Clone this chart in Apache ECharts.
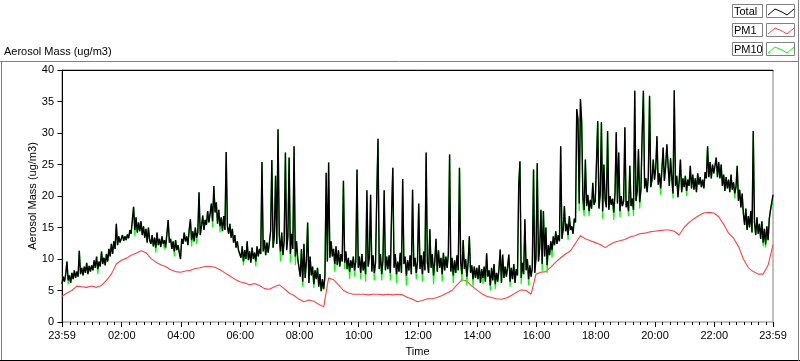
<!DOCTYPE html>
<html>
<head>
<meta charset="utf-8">
<script src="https://cdn.jsdelivr.net/npm/echarts@6/dist/echarts.min.js"></script>
<style>
html,body{margin:0;padding:0;background:#ffffff;}
#chart{width:800px;height:361px;}
</style>
</head>
<body>
<div id="chart"></div>
<script>
// ---------- data ----------
const seriesNames = ['Total', 'PM1', 'PM10'];
const seriesColors = ['#000000', '#ff4040', '#00ff00'];
const chartTitle = 'Aerosol Mass (ug/m3)';
const xAxisName = 'Time';
const yAxisName = 'Aerosol Mass (ug/m3)';

// major x ticks (minutes after midnight) and their labels
const xMajorTicks = [-1, 120, 240, 360, 480, 600, 720, 840, 960, 1080, 1200, 1320, 1439];
const xMajorLabels = ['23:59', '02:00', '04:00', '06:00', '08:00', '10:00', '12:00', '14:00', '16:00', '18:00', '20:00', '22:00', '23:59'];
const yTickValues = [0, 5, 10, 15, 20, 25, 30, 35, 40];

// Total and PM10 sampled every 2.5 minutes starting 23:59 (one line per hour)
const totalStartMin = -1, totalStepMin = 2.5;
const total = [
  6.0,7.2,6.4,7.6,9.6,6.6,7.4,6.2,7.8,6.8,8.2,7.0,8.0,7.2,11.3,7.6,8.6,7.4,8.8,7.8,9.4,7.6,8.9,8.0,
  9.0,8.2,9.8,8.6,10.4,8.4,9.6,8.8,11.2,9.2,10.2,9.0,10.8,9.6,11.6,10.4,12.4,10.8,12.8,11.6,15.6,12.2,13.6,12.6,
  13.2,13.8,12.9,13.6,13.0,13.9,13.3,14.6,14.0,16.2,18.3,14.6,16.6,14.2,15.8,14.4,16.0,13.8,15.2,13.4,14.8,12.6,15.0,13.0,
  12.4,13.8,12.0,13.4,11.8,14.2,12.2,13.2,11.9,13.6,12.4,13.0,11.8,14.0,16.2,12.6,13.2,11.6,12.8,11.2,13.0,11.4,12.2,11.0,
  10.0,13.2,12.4,14.2,12.8,13.6,12.2,14.6,16.3,13.0,14.4,12.8,15.0,13.4,14.2,20.6,13.8,15.2,16.9,14.6,16.2,15.4,17.6,15.8,
  17.2,18.8,16.0,21.6,17.4,19.0,15.6,17.8,15.2,16.6,14.4,16.8,14.6,27.0,15.2,14.0,15.6,13.4,14.8,12.6,13.8,11.8,12.8,11.4,
  11.6,10.2,12.0,9.6,11.4,10.0,12.8,9.8,11.2,9.4,11.8,10.0,11.0,9.6,12.0,10.4,11.6,10.8,25.4,11.2,13.0,10.6,12.6,11.0,
  12.6,14.4,25.7,11.8,13.6,23.2,12.4,30.6,13.8,11.2,14.2,10.6,13.0,26.9,11.4,13.6,26.1,10.8,14.0,11.6,27.9,10.4,12.8,10.0,
  9.8,7.2,11.6,6.4,12.4,7.0,9.6,15.8,6.2,10.4,7.4,8.8,6.0,8.2,6.8,8.6,5.6,7.6,4.9,6.8,5.2,7.2,23.7,9.6,
  25.3,10.2,12.8,10.4,11.6,9.2,12.0,9.0,11.4,8.8,10.8,9.6,22.4,9.4,11.2,8.4,10.2,8.0,9.8,8.6,10.4,8.2,9.6,24.2,
  8.6,10.4,7.8,10.8,8.2,9.6,7.6,20.9,8.8,10.2,20.2,8.0,10.6,7.8,9.4,20.0,29.1,8.4,10.8,7.6,9.8,20.9,8.2,10.4,
  8.4,10.6,7.8,17.2,24.5,8.6,10.8,7.6,9.6,8.0,11.0,7.8,22.7,9.2,10.4,7.4,9.8,8.2,10.6,7.6,21.0,8.8,10.2,7.8,
  9.6,18.8,8.4,10.6,7.6,11.2,8.2,26.9,9.4,7.8,14.7,8.6,10.8,7.4,9.6,13.2,8.0,11.4,8.6,10.2,7.6,11.0,8.2,10.4,
  8.6,10.8,26.6,8.0,10.2,7.4,9.8,7.8,10.6,8.2,24.5,9.4,7.6,13.0,8.4,10.0,7.2,9.4,13.6,7.8,9.0,6.8,8.8,7.0,
  8.6,6.8,9.0,6.2,8.4,7.0,8.8,6.4,10.9,7.2,8.2,5.8,8.6,6.6,9.2,6.0,7.8,6.4,8.4,11.5,6.2,10.7,7.0,8.8,
  7.2,8.8,10.7,6.4,8.6,6.8,9.2,6.2,8.4,7.4,21.7,25.5,7.0,9.4,7.6,16.3,8.2,10.0,6.8,9.0,7.2,8.6,24.2,7.8,
  10.2,25.2,9.6,11.8,17.8,9.2,17.6,10.4,15.0,9.0,12.2,10.6,12.8,11.4,13.6,12.2,14.4,12.4,13.8,12.8,27.9,13.2,14.6,18.4,
  14.4,15.6,13.8,16.8,14.6,15.2,14.0,16.4,15.8,33.8,32.2,18.8,35.4,31.8,19.6,17.8,25.8,18.4,20.2,17.6,19.4,18.0,22.1,18.6,
  19.2,25.3,31.9,18.0,20.2,31.7,17.6,25.0,19.4,18.2,30.3,17.8,20.0,18.6,19.6,17.4,20.4,30.1,18.8,26.9,17.6,20.0,18.4,19.2,
  30.9,18.2,19.2,17.6,24.8,18.4,19.6,17.8,36.7,19.2,20.8,27.4,19.0,21.0,29.8,36.7,21.2,22.8,20.6,23.0,35.9,21.4,22.6,25.8,
  22.6,24.4,29.5,21.8,23.6,21.2,24.2,27.7,22.4,24.6,28.2,28.0,21.6,26.0,22.8,20.4,36.8,21.6,23.2,19.8,22.4,25.8,20.6,22.8,
  21.4,23.2,20.8,22.6,21.6,24.8,21.2,23.4,21.0,22.8,20.6,23.6,21.8,23.0,21.4,22.6,21.2,23.8,22.8,27.9,23.0,25.4,22.8,25.0,
  23.6,24.8,26.1,23.0,25.4,22.8,25.0,21.6,23.4,20.8,23.0,21.2,22.6,20.6,23.4,21.0,22.2,20.4,21.4,24.8,19.2,21.0,18.2,20.4,
  17.2,15.4,18.0,14.6,16.8,15.0,17.6,14.2,30.3,15.8,13.8,16.6,14.0,15.6,13.2,16.0,12.6,14.8,12.3,15.2,13.0,16.4,17.8,19.0,
  20.2
];
const pm10 = [
  6.0,7.2,6.4,7.6,9.6,6.0,7.4,6.2,7.8,6.8,8.2,7.0,8.0,7.2,11.3,7.6,8.6,7.4,8.8,7.8,9.4,7.6,8.9,8.0,
  9.0,8.2,9.8,8.6,10.4,7.6,9.6,8.8,11.2,9.2,10.2,9.0,10.8,9.6,11.6,10.4,12.4,10.8,12.8,11.6,15.6,12.2,13.6,12.6,
  13.2,13.8,12.9,13.6,13.0,13.9,13.3,14.6,14.0,16.2,18.3,13.6,16.6,14.2,15.8,14.4,16.0,13.8,15.2,13.4,14.8,12.6,15.0,13.0,
  12.4,13.8,12.0,13.4,11.0,14.2,12.2,13.2,11.9,13.6,12.4,11.6,11.8,14.0,16.2,12.6,13.2,11.6,12.8,10.4,13.0,11.4,12.2,11.0,
  10.0,13.2,12.4,14.2,12.8,13.6,12.2,14.6,16.3,12.0,14.4,12.8,15.0,12.4,14.2,20.6,13.8,15.2,16.9,14.6,16.2,15.4,17.6,15.8,
  17.2,18.8,15.0,21.6,17.4,19.0,15.6,17.8,14.2,16.6,14.4,16.8,14.6,27.0,15.2,14.0,15.6,13.4,14.8,12.6,13.8,11.8,12.8,11.4,
  11.6,10.2,12.0,9.0,11.4,10.0,12.8,9.8,11.2,9.4,11.8,10.0,11.0,8.8,12.0,10.4,11.6,10.8,25.4,11.2,13.0,10.6,12.6,11.0,
  12.6,14.4,25.7,11.8,13.6,23.2,12.4,30.6,13.8,9.6,14.2,10.6,13.0,26.9,11.4,13.6,26.1,9.4,14.0,11.6,27.9,9.0,12.8,10.0,
  9.8,7.2,11.6,5.6,12.4,7.0,9.6,15.8,6.2,10.4,7.4,8.8,5.4,8.2,6.8,8.6,5.6,7.6,4.9,6.0,5.2,7.2,23.7,9.6,
  25.3,10.2,12.8,10.4,11.6,8.0,12.0,9.0,11.4,8.8,10.8,9.6,22.4,8.4,11.2,8.4,10.2,6.8,9.8,8.6,10.4,7.2,9.6,24.2,
  8.6,10.4,6.8,10.8,8.2,9.6,6.4,20.9,8.8,10.2,20.2,8.0,10.6,6.6,9.4,20.0,29.1,8.4,10.8,6.6,9.8,20.9,8.2,10.4,
  8.4,10.6,6.6,17.2,24.5,8.6,10.8,6.2,9.6,8.0,11.0,7.8,22.7,9.2,10.4,5.8,9.8,8.2,10.6,7.6,21.0,8.8,10.2,6.8,
  9.6,18.8,8.4,10.6,6.4,11.2,8.2,26.9,9.4,7.8,14.7,8.6,10.8,6.0,9.6,13.2,8.0,11.4,8.6,10.2,6.4,11.0,8.2,10.4,
  8.6,10.8,26.6,8.0,10.2,6.2,9.8,7.8,10.6,8.2,24.5,9.4,6.4,13.0,8.4,10.0,5.8,9.4,13.6,7.8,9.0,5.6,8.8,7.0,
  8.6,6.8,9.0,6.2,8.4,6.0,8.8,6.4,10.9,7.2,8.2,5.0,8.6,6.6,9.2,5.2,7.8,6.4,8.4,11.5,6.2,10.7,7.0,8.8,
  7.2,8.8,10.7,5.6,8.6,6.8,9.2,6.2,8.4,7.4,21.7,25.5,6.0,9.4,7.6,16.3,8.2,10.0,5.8,9.0,7.2,8.6,24.2,7.8,
  10.2,25.2,9.6,11.8,17.8,8.0,17.6,10.4,15.0,7.8,12.2,10.6,12.8,10.2,13.6,12.2,14.4,12.4,13.8,12.8,27.9,13.2,14.6,18.4,
  14.4,15.6,13.0,16.8,14.6,15.2,14.0,16.4,15.8,33.8,32.2,17.6,35.4,31.8,18.4,16.8,25.8,18.4,20.2,16.8,19.4,18.0,22.1,18.6,
  19.2,25.3,31.9,18.0,20.2,31.7,16.4,25.0,19.4,18.2,30.3,17.8,20.0,18.6,19.6,16.2,20.4,30.1,18.8,26.9,16.6,20.0,18.4,19.2,
  30.9,18.2,19.2,16.8,24.8,18.4,19.6,16.8,36.7,19.2,20.8,27.4,18.0,21.0,29.8,36.7,21.2,22.8,20.6,23.0,35.9,21.4,22.6,25.8,
  22.6,24.4,29.5,21.8,23.6,20.2,24.2,27.7,22.4,24.6,28.2,28.0,21.6,26.0,22.8,19.6,36.8,21.6,23.2,19.8,22.4,25.8,20.6,22.8,
  21.4,23.2,20.0,22.6,21.6,24.8,21.2,23.4,21.0,22.8,20.6,23.6,21.8,23.0,21.4,22.6,21.2,23.8,22.8,27.9,23.0,25.4,22.8,25.0,
  23.6,24.8,26.1,23.0,25.4,22.8,25.0,21.6,23.4,20.8,23.0,21.2,22.6,20.6,23.4,21.0,22.2,19.6,21.4,24.8,19.2,21.0,18.2,20.4,
  17.2,15.4,18.0,14.6,16.8,15.0,17.6,14.2,30.3,15.8,13.8,16.6,14.0,15.6,13.2,16.0,12.0,14.8,11.8,15.2,13.0,16.4,17.8,19.0,
  18.5
];
// PM1 sampled every 10 minutes starting 23:59 (one line per hour)
const pm1StartMin = -1, pm1StepMin = 10;
const pm1 = [
  4.1, 4.6, 5.0, 5.7, 5.6, 5.5,
  5.7, 5.5, 5.8, 6.6, 7.6, 9.2,
  9.8, 10.1, 10.6, 10.9, 11.3, 11.0,
  10.1, 9.5, 9.1, 8.8, 8.3, 8.0,
  7.9, 8.1, 8.2, 8.5, 8.6, 8.8,
  8.8, 8.7, 8.3, 7.8, 7.3, 6.8,
  6.4, 6.2, 5.9, 6.1, 5.8, 5.3,
  5.2, 5.6, 5.9, 5.3, 4.6, 4.2,
  3.6, 3.2, 3.5, 3.3, 2.8, 2.4,
  7.0, 6.7, 5.9, 5.0, 4.6, 4.4,
  4.4, 4.4, 4.3, 4.4, 4.4, 4.3,
  4.4, 4.3, 4.4, 4.3, 3.9, 3.6,
  3.2, 3.4, 3.7, 3.7, 3.9, 4.2,
  4.6, 5.0, 5.9, 6.7, 6.5, 5.7,
  5.1, 4.5, 4.1, 3.9, 3.7, 3.6,
  3.8, 4.2, 4.7, 5.1, 5.0, 4.4,
  7.6, 7.9, 8.0, 8.7, 9.5, 10.2,
  10.8, 11.3, 12.5, 13.7, 13.2, 12.9,
  12.6, 12.3, 11.8, 12.3, 12.7, 12.9,
  13.1, 13.5, 13.7, 14.0, 14.1, 14.3,
  14.4, 14.5, 14.6, 14.6, 14.4, 13.8,
  15.0, 15.8, 16.4, 16.9, 17.3, 17.4,
  17.3, 16.7, 15.5, 14.1, 13.3, 12.0,
  10.0, 8.6, 8.0, 7.6, 7.6, 9.0,
  12.3
];

// ---------- build ----------
function toPairs(values, start, step) {
  return values.map((v, i) => [start + i * step, v]);
}
const xMinorTicks = [];
for (let m = 0; m < 1440; m += 15) xMinorTicks.push(m);

const FONT = 'Liberation Sans';
const txt = { color: '#000', fontSize: 11, fontFamily: FONT };

const chart = echarts.init(document.getElementById('chart'), null, { renderer: 'canvas' });

// legend boxes (LabVIEW style plot legend)
const legendGraphics = [];
const legendRowsY = [4, 23, 42];
const sampleShape = [[0, 11], [7, 5], [14, 8], [19, 11], [26, 5]];
seriesNames.forEach((name, i) => {
  const y0 = legendRowsY[i];
  legendGraphics.push({
    type: 'rect', shape: { x: 732.5, y: y0 + 0.5, width: 30, height: 13 },
    style: { fill: '#fff', stroke: '#808080', lineWidth: 1 }, silent: true
  });
  legendGraphics.push({
    type: 'text', x: 734, y: y0 + 7.5,
    style: { text: name, fill: '#000', fontSize: 11, fontFamily: FONT, verticalAlign: 'middle', align: 'left' }, silent: true
  });
  legendGraphics.push({
    type: 'rect', shape: { x: 766.5, y: y0 + 0.5, width: 28, height: 13 },
    style: { fill: '#fff', stroke: '#808080', lineWidth: 1 }, silent: true
  });
  legendGraphics.push({
    type: 'polyline', shape: { points: sampleShape.map(p => [768 + p[0], y0 + p[1]]) },
    style: { stroke: seriesColors[i], lineWidth: 1, fill: null }, silent: true
  });
});

const option = {
  animation: false,
  backgroundColor: '#ffffff',
  textStyle: { fontFamily: FONT },
  grid: {
    left: 62, right: 27, top: 70, bottom: 39,
    show: true, borderColor: '#808080', borderWidth: 1, backgroundColor: '#ffffff',
    outerBoundsMode: 'none', containLabel: false
  },
  xAxis: [
    {
      type: 'value', min: -1, max: 1439, position: 'bottom',
      name: xAxisName, nameLocation: 'middle', nameGap: 24, nameMoveOverlap: false,
      nameTextStyle: txt,
      axisLine: { show: false },
      axisTick: { show: true, length: 5, customValues: xMajorTicks, lineStyle: { color: '#000', width: 1 } },
      axisLabel: {
        show: true, customValues: xMajorTicks, margin: 8, ...txt,
        formatter: v => { const k = xMajorTicks.indexOf(v); return k >= 0 ? xMajorLabels[k] : ''; }
      },
      splitLine: { show: false }
    },
    {
      type: 'value', min: -1, max: 1439, position: 'bottom',
      axisLine: { show: false },
      axisTick: { show: true, length: 3, customValues: xMinorTicks, lineStyle: { color: '#000', width: 1 } },
      axisLabel: { show: false },
      splitLine: { show: false }
    },
    {
      type: 'value', min: -1, max: 1439, position: 'top',
      axisLine: { show: true, lineStyle: { color: '#000', width: 1 } },
      axisTick: { show: false }, axisLabel: { show: false }, splitLine: { show: false }
    }
  ],
  yAxis: {
    type: 'value', min: 0, max: 40, interval: 5,
    name: yAxisName, nameLocation: 'middle', nameGap: 24, nameRotate: 90, nameMoveOverlap: false,
    nameTextStyle: txt,
    axisLine: { show: true, lineStyle: { color: '#000', width: 1 } },
    axisTick: { show: true, length: 5, customValues: yTickValues, lineStyle: { color: '#000' } },
    axisLabel: { margin: 8, customValues: yTickValues, ...txt },
    splitLine: { show: false }
  },
  series: [
    {
      name: seriesNames[1], type: 'line', xAxisIndex: 0, z: 2,
      data: toPairs(pm1, pm1StartMin, pm1StepMin),
      showSymbol: false, symbol: 'none', sampling: null,
      lineStyle: { color: seriesColors[1], width: 1.1 }
    },
    {
      name: seriesNames[2], type: 'line', xAxisIndex: 0, z: 3,
      data: toPairs(pm10, totalStartMin, totalStepMin),
      showSymbol: false, symbol: 'none', sampling: null,
      lineStyle: { color: seriesColors[2], width: 1.2 }
    },
    {
      name: seriesNames[0], type: 'line', xAxisIndex: 0, z: 4,
      data: toPairs(total, totalStartMin, totalStepMin),
      showSymbol: false, symbol: 'none', sampling: null,
      lineStyle: { color: seriesColors[0], width: 1.4 }
    }
  ],
  graphic: [
    // panel frame
    { type: 'line', shape: { x1: 0, y1: 61.5, x2: 799, y2: 61.5 }, style: { stroke: '#808080', lineWidth: 1 }, silent: true },
    { type: 'line', shape: { x1: 1.5, y1: 61, x2: 1.5, y2: 361 }, style: { stroke: '#808080', lineWidth: 1 }, silent: true },
    { type: 'line', shape: { x1: 0, y1: 360.5, x2: 800, y2: 360.5 }, style: { stroke: '#000000', lineWidth: 1 }, silent: true },
    { type: 'line', shape: { x1: 798.5, y1: 0, x2: 798.5, y2: 361 }, style: { stroke: '#808080', lineWidth: 1 }, silent: true },
    // chart caption
    { type: 'text', x: 4, y: 52, style: { text: chartTitle, fill: '#000', fontSize: 11, fontFamily: FONT, verticalAlign: 'middle' }, silent: true },
    ...legendGraphics
  ]
};
chart.setOption(option);
</script>
</body>
</html>
